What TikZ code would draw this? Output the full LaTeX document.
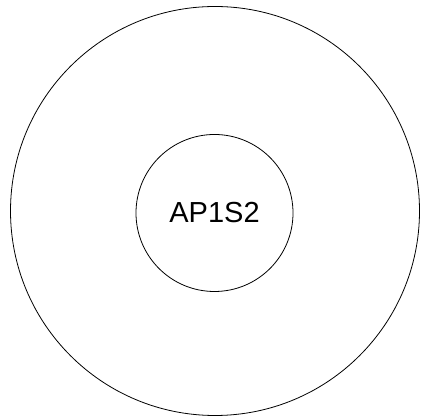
\documentclass[tikz,border=0pt]{standalone}
\usepackage{fontspec}
\setmainfont{Liberation Sans}
\usepackage{tikz}
\usetikzlibrary{positioning}

\begin{document}
\begin{tikzpicture}[
  x=1pt, y=1pt,
  ring/.style={circle, draw, line width=0.8pt, inner sep=0pt},
  core/.style={circle, draw, line width=0.8pt, inner sep=0pt, minimum size=157pt, font=\fontsize{29}{34}\selectfont}
  ]
  \useasboundingbox (0,0) rectangle (421,417);
  \node[ring, minimum size=409pt] (outer) at (215,206) {};
  \node[core] (AP1S2) at (214.5,204) {AP1S2};
\end{tikzpicture}
\end{document}
